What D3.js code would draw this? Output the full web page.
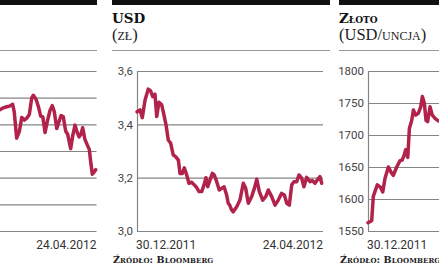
<!DOCTYPE html>
<html>
<head>
<meta charset="utf-8">
<script src="https://cdn.jsdelivr.net/npm/d3@7"></script>
<style>
  body { margin: 0; background: #fff; }
  svg { display: block; }
</style>
</head>
<body>
<div id="chart"></div>
<script>
// day numbers count from 30.12.2011 (day 0) to 24.04.2012 (day 116)
const dayRange = [0, 116];
const dateLabels = ['30.12.2011', '24.04.2012'];

// left panel (cut off in the picture), index points
const wigDays = [55.8, 57.9, 60, 61.6, 63.7, 64.7, 66.2, 67.9, 69.4, 71, 72.5, 74.1, 75.6, 76.6, 78.3,
  79.7, 81.2, 82.5, 83.9, 85.3, 87, 88.4, 89.7, 91.2, 92.6, 93.9, 95.3, 96.8, 98, 99.9, 101.2, 102.6,
  103.7, 105.1, 106.3, 107.4, 108.8, 110.3, 111.5, 112.4, 113.4, 114.4, 115.5];
const wigValues = [2455, 2462, 2466, 2468, 2475, 2447, 2348, 2374, 2426, 2416, 2423, 2437, 2499, 2509, 2494,
  2468, 2431, 2428, 2369, 2410, 2452, 2470, 2447, 2384, 2410, 2433, 2428, 2374, 2363, 2309, 2358, 2397,
  2374, 2353, 2363, 2387, 2343, 2322, 2306, 2259, 2213, 2220, 2230];
const wigTicks = [2000, 2100, 2200, 2300, 2400, 2500, 2600];

// USD (zł)
const usdDays = [0, 1.9, 3.3, 5, 7, 8.5, 9.8, 11.2, 12.3, 13.7, 15.4, 16.4, 18.1, 19.5, 21, 22.6, 24.1,
  25.8, 26.8, 28.3, 29.5, 31, 32.4, 34.1, 35.7, 37.2, 38.7, 40.4, 41.8, 43, 44.1, 45.5, 47, 48.2, 49.7,
  51.3, 52.8, 54.3, 55.9, 56.9, 57.8, 59, 60, 62.2, 64.2, 66.3, 67.8, 69.4, 71.5, 73.2, 74.7, 76.3, 78.4,
  80.3, 81.9, 84, 86.1, 88.1, 90.2, 91.9, 93.4, 95, 96.5, 97.9, 99.6, 101, 102.7, 104.1, 105.8, 107.9,
  109.3, 111, 112.4, 114.1, 115.2];
const usdValues = [3.447, 3.454, 3.425, 3.49, 3.532, 3.525, 3.504, 3.513, 3.429, 3.483, 3.473, 3.447,
  3.398, 3.341, 3.329, 3.285, 3.279, 3.266, 3.216, 3.216, 3.237, 3.21, 3.179, 3.183, 3.173, 3.163, 3.148,
  3.148, 3.173, 3.2, 3.166, 3.191, 3.216, 3.21, 3.185, 3.154, 3.16, 3.166, 3.135, 3.104, 3.097, 3.079,
  3.072, 3.091, 3.116, 3.179, 3.16, 3.104, 3.129, 3.16, 3.194, 3.148, 3.116, 3.129, 3.154, 3.129, 3.097,
  3.116, 3.141, 3.135, 3.104, 3.097, 3.173, 3.185, 3.185, 3.21, 3.198, 3.166, 3.201, 3.185, 3.189, 3.179,
  3.191, 3.204, 3.179];
const usdTicks = [3.0, 3.2, 3.4, 3.6];

// Złoto (USD/uncja)
const goldDays = [0, 2.3, 3.3, 5.8, 7.9, 9.2, 10.6, 12.7, 14.8, 15.8, 17.9, 20, 21.4, 22.6, 23.5, 24.8,
  25.8, 27.3, 28.3, 29.7, 31.4, 32.9, 33.9, 35.1, 36.2, 37.2, 38.7, 40.1, 41.8, 43.9];
const goldValues = [1563, 1566, 1604, 1622, 1618, 1611, 1632, 1650, 1640, 1637, 1650, 1660, 1661, 1669,
  1677, 1665, 1710, 1723, 1739, 1731, 1734, 1744, 1760, 1750, 1723, 1721, 1744, 1731, 1726, 1722];
const goldTicks = [1550, 1600, 1650, 1700, 1750, 1800];

const width = 439;
const height = 268;
const lineColor = '#b1234b';
const gridColor = '#858585';
const serif = "'DejaVu Serif', serif";
const unitSerif = "'Liberation Serif', serif";
const sans = "Roboto, sans-serif";

const svg = d3.select('#chart')
  .append('svg')
  .attr('width', width)
  .attr('height', height);

function Panel(opts) {
  const top = 71;
  const bottom = 231;
  const g = svg.append('g');

  // black header bar and thin rule under the title
  g.append('rect')
    .attr('x', opts.left).attr('y', 0)
    .attr('width', opts.right - opts.left).attr('height', 5)
    .attr('fill', '#111');
  g.append('line')
    .attr('x1', opts.left).attr('x2', opts.right)
    .attr('y1', 50.5).attr('y2', 50.5)
    .attr('stroke', '#999').attr('stroke-width', 1);

  if (opts.title) {
    g.append('text')
      .attr('x', opts.left).attr('y', 23)
      .attr('font-family', serif).attr('font-weight', 'bold')
      .attr('font-size', 13.5)
      .style('font-variant', 'small-caps')
      .attr('fill', '#111')
      .text(opts.title);
    g.append('text')
      .attr('x', opts.left).attr('y', 39.5)
      .attr('font-family', unitSerif).attr('font-size', 16.5)
      .style('font-variant', 'small-caps')
      .attr('fill', '#222')
      .text(opts.unit);
  }

  const xScale = d3.scaleLinear().domain(dayRange).range([opts.x0, opts.x1]);
  const yScale = d3.scaleLinear().domain(d3.extent(opts.ticks)).range([bottom, top]);

  const yAxis = d3.axisLeft(yScale)
    .tickValues(opts.ticks)
    .tickSize(-(opts.x1 - opts.x0))
    .tickSizeOuter(0)
    .tickPadding(4)
    .tickFormat(opts.format);

  const yAxisGroup = g.append('g')
    .attr('transform', 'translate(' + opts.x0 + ',0)')
    .call(yAxis);
  yAxisGroup.select('.domain').attr('stroke', gridColor).attr('stroke-width', 1.2);
  yAxisGroup.selectAll('.tick line').attr('stroke', gridColor).attr('stroke-width', 1.2);
  yAxisGroup.selectAll('.tick text')
    .attr('font-family', sans).attr('font-size', 11.5).attr('fill', '#444');

  // first / last date under the plot (only those that fall inside the picture)
  if (opts.firstDate) {
    g.append('text')
      .attr('x', xScale(dayRange[0]) - 1).attr('y', 249)
      .attr('font-family', sans).attr('font-size', 12).attr('fill', '#333')
      .text(dateLabels[0]);
  }
  if (opts.lastDate) {
    g.append('text')
      .attr('x', xScale(dayRange[1])).attr('y', 249)
      .attr('text-anchor', 'end')
      .attr('font-family', sans).attr('font-size', 12).attr('fill', '#333')
      .text(dateLabels[1]);
  }

  const line = d3.line()
    .x((d, i) => xScale(opts.days[i]))
    .y((d) => yScale(d));

  g.append('path')
    .datum(opts.values)
    .attr('d', line)
    .attr('fill', 'none')
    .attr('stroke', lineColor)
    .attr('stroke-width', 3.5)
    .attr('stroke-linejoin', 'round')
    .attr('stroke-linecap', 'round');

  if (opts.source) {
    g.append('text')
      .attr('x', opts.left + 1).attr('y', 263)
      .attr('font-family', serif).attr('font-weight', 'bold')
      .attr('font-size', 9.5)
      .attr('letter-spacing', 0.1)
      .style('font-variant', 'small-caps')
      .attr('fill', '#222')
      .text('Źródło: Bloomberg');
  }
}

const commaFormat = (d) => d.toFixed(1).replace('.', ',');

// left panel: only its right part is inside the picture, so no tick labels
Panel({
  left: -120, right: 97, x0: -89.5, x1: 96.5,
  title: null, days: wigDays, values: wigValues, ticks: wigTicks,
  format: () => '', source: false, firstDate: false, lastDate: true,
});

Panel({
  left: 112, right: 330, x0: 137, x1: 323,
  title: 'USD', unit: '(zł)', days: usdDays, values: usdValues, ticks: usdTicks,
  format: commaFormat, source: true, firstDate: true, lastDate: true,
});

Panel({
  left: 339, right: 560, x0: 368, x1: 554,
  title: 'Złoto', unit: '(USD/uncja)', days: goldDays, values: goldValues, ticks: goldTicks,
  format: d3.format('d'), source: true, firstDate: true, lastDate: false,
});
</script>
</body>
</html>
